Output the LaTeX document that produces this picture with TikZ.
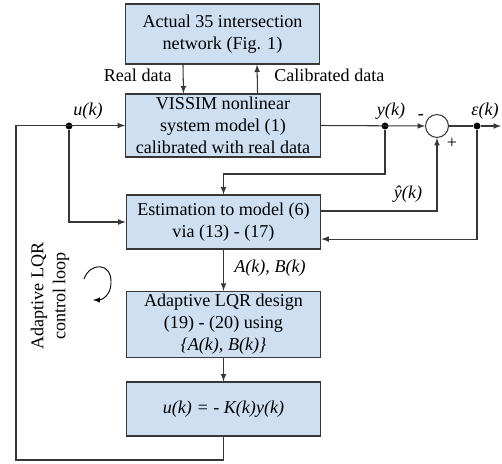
\documentclass[tikz,border=0pt]{standalone}
\usepackage{fontspec}
\setmainfont{Liberation Serif}
\usepackage{tikz}
\usetikzlibrary{calc}

\definecolor{boxfill}{RGB}{205,223,241}
\definecolor{linegray}{RGB}{55,55,55}

\tikzset{
    block/.style={draw=linegray, fill=boxfill, line width=0.8pt, minimum width=129pt, align=center, inner sep=2pt},
    wire/.style={draw=linegray, line width=0.7pt},
    junction/.style={circle, fill=black, inner sep=0pt, minimum size=4.6pt}
}

\begin{document}
\begin{tikzpicture}[>=latex, x=0.663pt, y=-0.663pt, font=\fontsize{12}{14.5}\selectfont]
    \useasboundingbox (0,0) rectangle (502,464);

    % Blocks
    \node[block, minimum height=39.8pt] (network) at (222.5,34) {Actual 35 intersection\\network (Fig. 1)};
    \node[block, minimum height=41.8pt] (vissim) at (223,125.5) {VISSIM nonlinear\\system model (1)\\calibrated with real data};
    \node[block, minimum height=35.8pt] (estim) at (223.5,222) {Estimation to model (6)\\via (13) - (17)};
    \node[block, minimum height=43.1pt] (lqr) at (223.5,324.5) {Adaptive LQR design\\(19) - (20) using\\\textit{\{A(k), B(k)\}}};
    \node[block, minimum height=35.8pt] (ctrl) at (223.5,409) {\textit{u(k) = - K(k)y(k)}};

    % Summing point
    \node[draw=linegray, line width=0.7pt, circle, minimum size=15.2pt, inner sep=0pt] (sum) at (437,126) {};

    % Branch points
    \node[junction] (uk) at (69,126) {};
    \node[junction] (yk) at (385,126) {};
    \node[junction] (ek) at (477,126) {};
    \coordinate (out) at (501,126);
    \coordinate (ytap) at (385,174);
    \coordinate (fb) at (16,460);

    % Labels
    \node[anchor=east] (reallbl) at (177,75) {Real data};
    \node[anchor=west] (callbl) at (269,75) {Calibrated data};
    \node (ulbl) at (88,111) {\textit{u(k)}};
    \node (ylbl) at (391,111) {\textit{y(k)}};
    \node (elbl) at (485,111) {\textit{ε(k)}};
    \node (yhatlbl) at (408,194) {\textit{ŷ(k)}};
    \node (minus) at (421,117) {-};
    \node (plus) at (452,143) {+};
    \node[anchor=west] (ablbl) at (229,268) {\textit{A(k), B(k)}};
    \node[rotate=90, align=center] (looplbl) at (50,296) {Adaptive LQR\\control loop};

    % Connections
    \draw[wire, ->] ([xshift=-26.2pt]network.south) -- ([xshift=-26.2pt]vissim.north);
    \draw[wire, ->] ([xshift=22.9pt]vissim.north) -- ([xshift=22.9pt]network.south);
    \draw[wire, ->] (ctrl.south) |- (fb) |- (vissim.west);
    \draw[wire, ->] (vissim.east) -- (sum.west);
    \draw[wire] (sum.east) -- (ek);
    \draw[wire, ->] (ek) -- (out);
    \draw[wire, ->] (uk) |- (estim.west);
    \draw[wire, ->] (yk) -- (ytap) -| (estim.north);
    \draw[wire, ->] ([yshift=7.3pt]estim.east) -| (sum.south);
    \draw[wire, ->] (ek) |- ([yshift=-11.3pt]estim.east);
    \draw[wire, ->] (estim.south) -- (lqr.north);
    \draw[wire, ->] (lqr.south) -- (ctrl.north);

    % Loop direction symbol
    \draw[line width=0.6pt, ->] (84,279) .. controls (90,262) and (112,262) .. (111,283) .. controls (111,295) and (102,300) .. (93,300);
\end{tikzpicture}
\end{document}
